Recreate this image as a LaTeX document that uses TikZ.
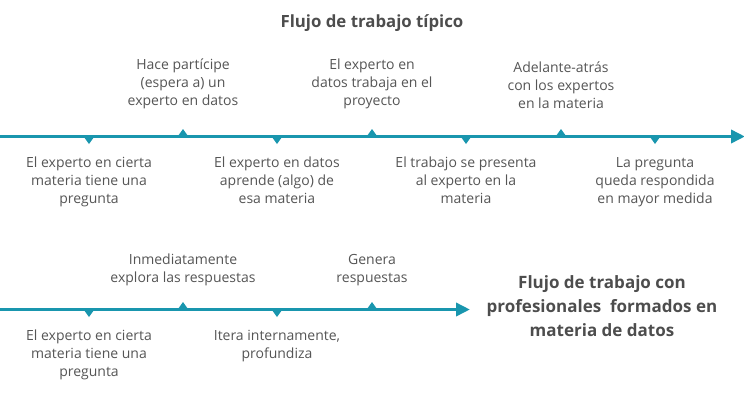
\documentclass[tikz,border=0pt]{standalone}
\usepackage{fontspec}
\setmainfont{Open Sans}
\usepackage{tikz}
\usetikzlibrary{arrows.meta,positioning}
\definecolor{flowteal}{HTML}{1996AE}
\definecolor{txtgray}{HTML}{555555}
\definecolor{ttlgray}{HTML}{4D4D4D}

\begin{document}
\begin{tikzpicture}[x=1pt, y=-1pt,
    lbl/.style={align=center, inner sep=0pt, text=txtgray, font=\fontsize{14}{18}\selectfont},
    lblup/.style={lbl, anchor=south},
    lbldown/.style={lbl, anchor=north},
    ttl/.style={align=center, inner sep=0pt, text=ttlgray, font=\bfseries\fontsize{16.8}{24}\selectfont},
    tline/.style={draw=flowteal, line width=3.6pt, -{Triangle[length=14pt, width=13pt]}},
    dmk/.style={fill=flowteal},
    umk/.style={fill=flowteal}
  ]
    \useasboundingbox (0,0) rectangle (744,400);
    \node[ttl] (title) at (372,23) {Flujo de trabajo típico};
    % typical workflow
    \coordinate (s1) at (0,136.5);
    \coordinate (e1) at (745,136.5);
    \draw[tline] (s1) -- (e1);
    \foreach \x in {89,277,466,655} \fill[dmk] (\x-5,137) -- (\x+5,137) -- (\x,144) -- cycle;
    \foreach \x in {183,372,561} \fill[umk] (\x-5,136) -- (\x+5,136) -- (\x,129) -- cycle;
    \node[lblup] (join) at (183,109) {Hace partícipe\\(espera a) un\\experto en datos};
    \node[lblup] (work) at (372,109) {El experto en\\datos trabaja en el\\proyecto};
    \node[lblup] (back) at (561,109) {Adelante-atrás\\con los expertos\\en la materia};
    \node[lbldown] (ask) at (89,157) {El experto en cierta\\materia tiene una\\pregunta};
    \node[lbldown] (learn) at (277,157) {El experto en datos\\aprende (algo) de\\esa materia};
    \node[lbldown] (present) at (466,157) {El trabajo se presenta\\al experto en la\\materia};
    \node[lbldown] (done) at (655,157) {La pregunta\\queda respondida\\en mayor medida};
    % trained workflow
    \coordinate (s2) at (0,309.5);
    \coordinate (e2) at (470,309.5);
    \draw[tline] (s2) -- (e2);
    \foreach \x in {89,277} \fill[dmk] (\x-5,310) -- (\x+5,310) -- (\x,317) -- cycle;
    \foreach \x in {183,372} \fill[umk] (\x-5,309) -- (\x+5,309) -- (\x,302) -- cycle;
    \node[lblup] (explore) at (183,286) {Inmediatamente\\explora las respuestas};
    \node[lblup] (gen) at (372,286) {Genera\\respuestas};
    \node[lbldown] (ask2) at (89,330) {El experto en cierta\\materia tiene una\\pregunta};
    \node[lbldown] (iter) at (277,330) {Itera internamente,\\profundiza};
    \node[ttl, font=\bfseries\fontsize{17}{24}\selectfont] (title2) at (602,306) {Flujo de trabajo con\\profesionales \ formados en\\materia de datos};
  \end{tikzpicture}
\end{document}
